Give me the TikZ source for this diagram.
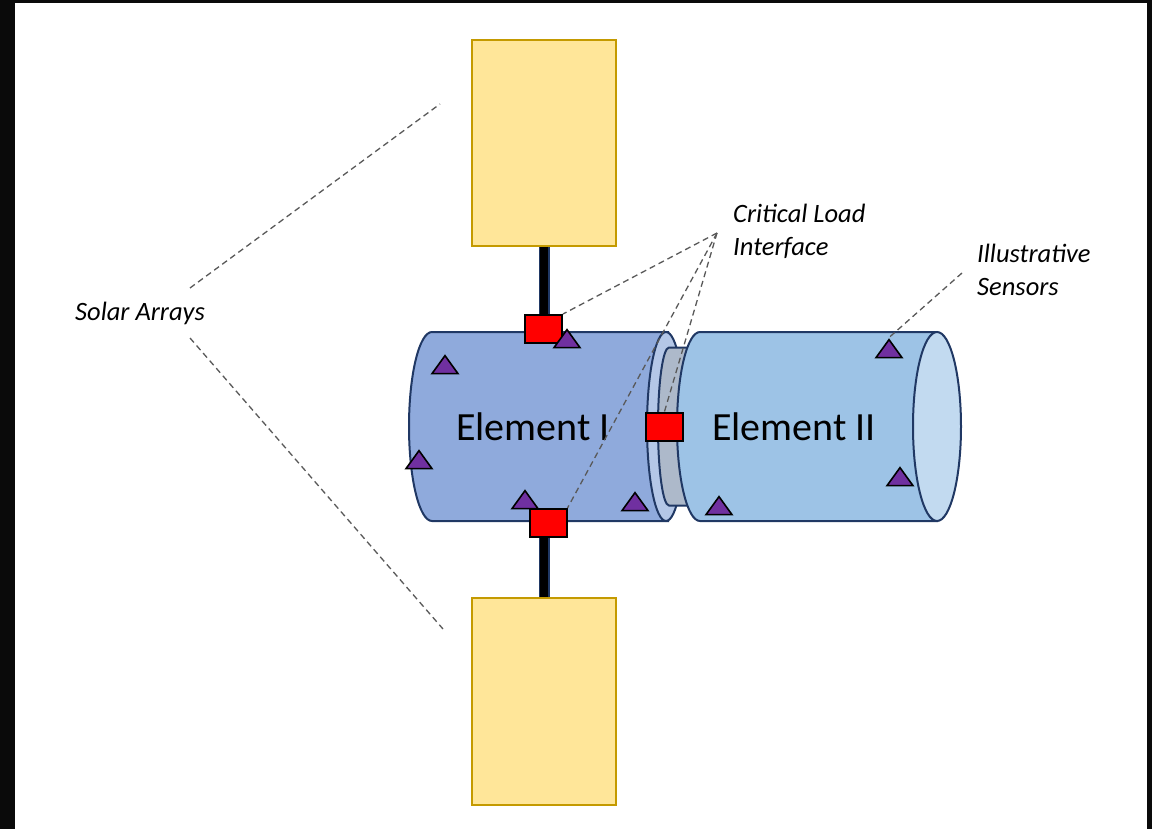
\documentclass[tikz,border=0pt]{standalone}
\usepackage{fontspec}
\setmainfont{Carlito}
\usetikzlibrary{shapes.geometric}
\definecolor{panelfill}{HTML}{FFE699}
\definecolor{paneledge}{HTML}{C49A00}
\definecolor{navy}{HTML}{203864}
\definecolor{oneblue}{HTML}{8FAADC}
\definecolor{ringblue}{HTML}{B4C7E7}
\definecolor{adaptgray}{HTML}{ADB9CA}
\definecolor{twoblue}{HTML}{9DC3E6}
\definecolor{twoend}{HTML}{C2DAF0}
\definecolor{sensorfill}{HTML}{7030A0}
\definecolor{leadgray}{HTML}{595959}
\tikzstyle{panel} = [rectangle, draw=paneledge, fill=panelfill, line width=2pt, minimum width=144pt, minimum height=206pt, inner sep=0]
\tikzstyle{fitting} = [rectangle, draw=black, fill=red, line width=2pt, minimum width=37pt, minimum height=28pt, inner sep=0]
\tikzstyle{sensor} = [isosceles triangle, isosceles triangle stretches, shape border rotate=90, minimum width=26pt, minimum height=18pt, fill=sensorfill, draw=black, line width=1.6pt, inner sep=0]
\tikzstyle{hull} = [draw=navy, line width=2pt]
\tikzstyle{mast} = [draw=navy, line width=1.5pt, double=black, double distance=8pt]
\tikzstyle{leader} = [draw=leadgray, dash pattern=on 6pt off 4pt, line width=1.3pt]
\tikzstyle{lbl} = [font=\fontsize{26.5pt}{33pt}\selectfont\itshape, align=left, inner sep=0, anchor=west]
\tikzstyle{elname} = [font=\fontsize{40pt}{48pt}\selectfont, inner sep=0]

\begin{document}
\begin{tikzpicture}[x=1pt, y=-1pt]

\useasboundingbox (0,0) rectangle (1152,829);
\fill[black!96] (0,0) rectangle (1152,829);
\fill[white] (15,3) rectangle (1147,829);

% Element I with its end ring and the gray adapter
\filldraw[hull, fill=oneblue] (668,332) -- (432,332) arc[start angle=270, end angle=90, x radius=23, y radius=94.5] -- (668,521) -- cycle;
\filldraw[hull, fill=ringblue] (666,426.5) ellipse[x radius=19, y radius=94.5];
\filldraw[hull, fill=adaptgray] (690,347.5) -- (669,347.5) arc[start angle=270, end angle=90, x radius=11, y radius=79] -- (690,505.5) -- cycle;

% Element II
\filldraw[hull, fill=twoblue] (937,332) -- (700,332) arc[start angle=270, end angle=90, x radius=23, y radius=94.5] -- (937,521) -- cycle;
\filldraw[hull, fill=twoend] (937,426.5) ellipse[x radius=24, y radius=94.5];

\node[elname] (e1) at (533,427) {Element I};
\node[elname] (e2) at (794,427) {Element II};

% solar arrays and masts
\node[panel] (toppanel) at (544,143) {};
\node[panel, minimum height=207pt] (botpanel) at (544,701.5) {};
\node[fitting] (topfit) at (543.5,329) {};
\node[fitting] (botfit) at (548,523) {};
\node[fitting] (midfit) at (664.5,426.5) {};
\draw[mast] (toppanel.south) -- (toppanel.south |- topfit.north);
\draw[mast] (botpanel.north) -- (botpanel.north |- botfit.south);

% sensors
\foreach \n/\x/\y in {1/445/367, 2/567/341, 3/419/462, 4/525/502, 5/635/504, 6/889/351, 7/900/479, 8/719/508}
  \node[sensor] (s\n) at (\x,\y) {};

% labels
\node[lbl] (sa) at (75,313) {Solar Arrays};
\node[lbl] (cli) at (733,231) {Critical Load\\Interface};
\node[lbl] (is) at (977,270) {Illustrative\\Sensors};

\coordinate (saup) at (190,288);
\coordinate (sadown) at (190,338);
\coordinate (saupend) at (440,104);
\coordinate (sadownend) at (443,629);
\coordinate (clitip) at (717,233);
\coordinate (istip) at (962,273);

\path[leader] (saup) -- (saupend);
\path[leader] (sadown) -- (sadownend);
\path[leader] (clitip) -- (topfit.north east);
\path[leader] (clitip) -- (midfit.north);
\path[leader] (clitip) -- (botfit.north east);
\path[leader] (istip) -- (s6.apex);

\end{tikzpicture}
\end{document}
